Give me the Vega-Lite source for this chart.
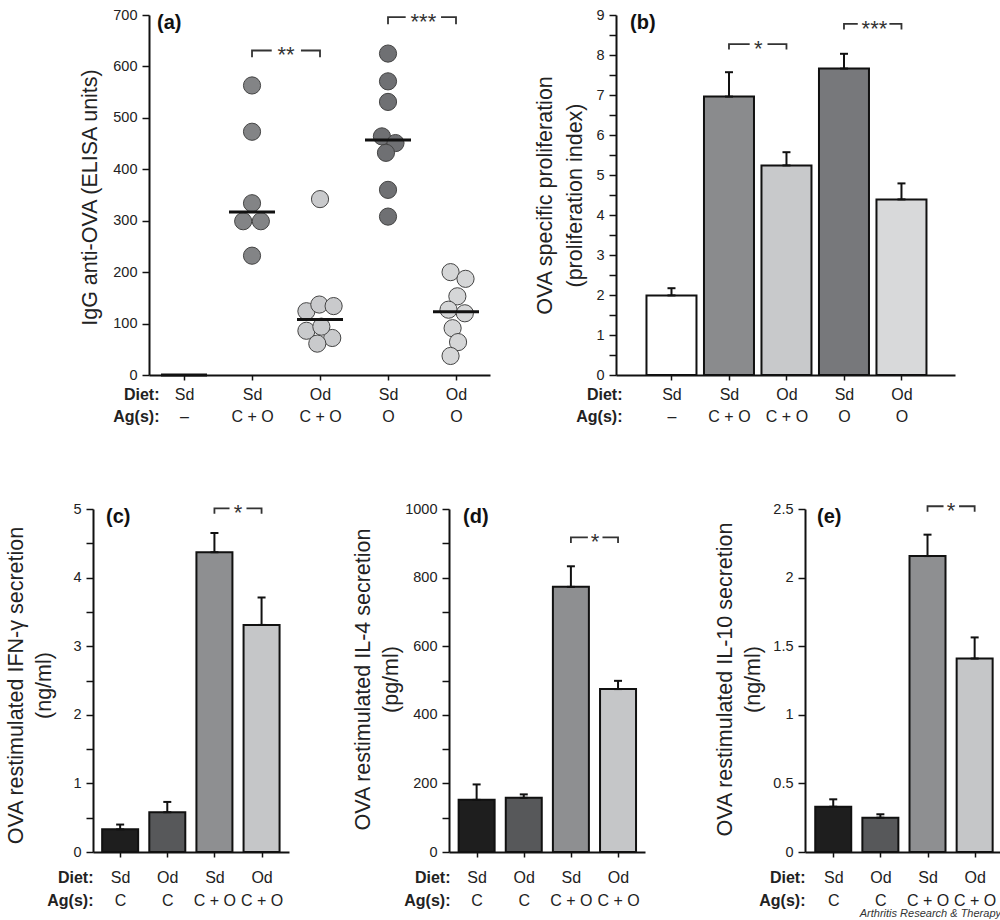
{
  "$schema": "https://vega.github.io/schema/vega-lite/v6.json",
  "background": "white",
  "padding": {"left": 4, "top": 7, "right": 0, "bottom": 0},
  "config": {
    "font": "Liberation Sans",
    "view": {"stroke": null},
    "axis": {"grid": false, "domainColor": "#111", "domainWidth": 2, "tickColor": "#111", "tickWidth": 1.5, "labelColor": "#222", "titleColor": "#222", "labelFont": "Liberation Sans", "titleFont": "Liberation Sans", "labelFlush": false, "labelOverlap": false},
    "axisY": {"tickSize": 7, "labelPadding": 5, "labelFontSize": 14.5, "titleFontSize": 21.5, "titleFontWeight": "normal", "titleBaseline": "middle", "titleAngle": -90},
    "axisX": {"tickSize": 5, "labelFontSize": 16, "labelAngle": 0, "labelBaseline": "top", "titleFontSize": 16, "titleFontWeight": "bold", "titleAlign": "right", "titleBaseline": "top", "titleAngle": 0}
  },
  "title": {"text": "Arthritis Research & Therapy", "orient": "bottom", "anchor": "end", "frame": "bounds", "fontSize": 11, "fontStyle": "italic", "fontWeight": "normal", "font": "Liberation Sans", "color": "#333", "offset": 0},
  "datasets": {
    "one": [{"k": 1}],
    "a_pts": [
      {"x": 2, "y": 563, "g": "SdCO"}, {"x": 2, "y": 473, "g": "SdCO"}, {"x": 2, "y": 334, "g": "SdCO"}, {"x": 1.87, "y": 299, "g": "SdCO"}, {"x": 2.13, "y": 299, "g": "SdCO"}, {"x": 2, "y": 232, "g": "SdCO"},
      {"x": 3, "y": 342, "g": "OdCO"}, {"x": 2.8, "y": 124, "g": "OdCO"}, {"x": 2.99, "y": 137, "g": "OdCO"}, {"x": 3.2, "y": 134, "g": "OdCO"}, {"x": 2.8, "y": 86, "g": "OdCO"}, {"x": 3.18, "y": 72, "g": "OdCO"}, {"x": 2.96, "y": 61, "g": "OdCO"}, {"x": 3.02, "y": 94, "g": "OdCO"},
      {"x": 4, "y": 625, "g": "SdO"}, {"x": 4, "y": 571, "g": "SdO"}, {"x": 4, "y": 531, "g": "SdO"}, {"x": 3.91, "y": 464, "g": "SdO"}, {"x": 4.11, "y": 451, "g": "SdO"}, {"x": 3.97, "y": 432, "g": "SdO"}, {"x": 4, "y": 360, "g": "SdO"}, {"x": 4, "y": 308, "g": "SdO"},
      {"x": 4.92, "y": 200, "g": "OdO"}, {"x": 5.14, "y": 187, "g": "OdO"}, {"x": 5.02, "y": 153, "g": "OdO"}, {"x": 4.89, "y": 127, "g": "OdO"}, {"x": 5.13, "y": 120, "g": "OdO"}, {"x": 4.95, "y": 91, "g": "OdO"}, {"x": 5.03, "y": 64, "g": "OdO"}, {"x": 4.92, "y": 37, "g": "OdO"}
    ],
    "a_med": [{"x": 1, "y": 0}, {"x": 2, "y": 317}, {"x": 3, "y": 108}, {"x": 4, "y": 457}, {"x": 5, "y": 123}],
    "a_br": [
      {"s": "a1", "o": 1, "x": 2, "y": 618}, {"s": "a1", "o": 2, "x": 2, "y": 631}, {"s": "a1", "o": 3, "x": 2.29, "y": 631},
      {"s": "a2", "o": 1, "x": 2.72, "y": 631}, {"s": "a2", "o": 2, "x": 3, "y": 631}, {"s": "a2", "o": 3, "x": 3, "y": 618},
      {"s": "a3", "o": 1, "x": 4, "y": 682}, {"s": "a3", "o": 2, "x": 4, "y": 696}, {"s": "a3", "o": 3, "x": 4.26, "y": 696},
      {"s": "a4", "o": 1, "x": 4.78, "y": 696}, {"s": "a4", "o": 2, "x": 5, "y": 696}, {"s": "a4", "o": 3, "x": 5, "y": 682}
    ],
    "a_st": [{"x": 2.5, "y": 631, "t": "**"}, {"x": 4.52, "y": 696, "t": "***"}],
    "b_bars": [
      {"x": 1, "y": 1.99, "hi": 2.17, "g": "b1"}, {"x": 2, "y": 6.96, "hi": 7.57, "g": "b2"}, {"x": 3, "y": 5.24, "hi": 5.57, "g": "b3"}, {"x": 4, "y": 7.66, "hi": 8.03, "g": "b4"}, {"x": 5, "y": 4.39, "hi": 4.79, "g": "b5"}
    ],
    "b_br": [
      {"s": "b1", "o": 1, "x": 2, "y": 8.14}, {"s": "b1", "o": 2, "x": 2, "y": 8.27}, {"s": "b1", "o": 3, "x": 2.36, "y": 8.27},
      {"s": "b2", "o": 1, "x": 2.67, "y": 8.27}, {"s": "b2", "o": 2, "x": 3, "y": 8.27}, {"s": "b2", "o": 3, "x": 3, "y": 8.14},
      {"s": "b3", "o": 1, "x": 4, "y": 8.64}, {"s": "b3", "o": 2, "x": 4, "y": 8.78}, {"s": "b3", "o": 3, "x": 4.24, "y": 8.78},
      {"s": "b4", "o": 1, "x": 4.79, "y": 8.78}, {"s": "b4", "o": 2, "x": 5, "y": 8.78}, {"s": "b4", "o": 3, "x": 5, "y": 8.64}
    ],
    "b_st": [{"x": 2.51, "y": 8.27, "t": "*"}, {"x": 4.53, "y": 8.78, "t": "***"}],
    "c_bars": [
      {"x": 1, "y": 0.33, "hi": 0.4, "g": "k1"}, {"x": 2, "y": 0.58, "hi": 0.73, "g": "k2"}, {"x": 3, "y": 4.37, "hi": 4.65, "g": "k3"}, {"x": 4, "y": 3.31, "hi": 3.71, "g": "k4"}
    ],
    "c_br": [
      {"s": "c1", "o": 1, "x": 3, "y": 4.93}, {"s": "c1", "o": 2, "x": 3, "y": 5.01}, {"s": "c1", "o": 3, "x": 3.32, "y": 5.01},
      {"s": "c2", "o": 1, "x": 3.68, "y": 5.01}, {"s": "c2", "o": 2, "x": 4, "y": 5.01}, {"s": "c2", "o": 3, "x": 4, "y": 4.93}
    ],
    "c_st": [{"x": 3.5, "y": 5.01, "t": "*"}],
    "d_bars": [
      {"x": 1, "y": 152, "hi": 197, "g": "k1"}, {"x": 2, "y": 158, "hi": 168, "g": "k2"}, {"x": 3, "y": 773, "hi": 833, "g": "k3"}, {"x": 4, "y": 475, "hi": 499, "g": "k4"}
    ],
    "d_br": [
      {"s": "d1", "o": 1, "x": 3, "y": 901}, {"s": "d1", "o": 2, "x": 3, "y": 917}, {"s": "d1", "o": 3, "x": 3.36, "y": 917},
      {"s": "d2", "o": 1, "x": 3.67, "y": 917}, {"s": "d2", "o": 2, "x": 4, "y": 917}, {"s": "d2", "o": 3, "x": 4, "y": 901}
    ],
    "d_st": [{"x": 3.51, "y": 917, "t": "*"}],
    "e_bars": [
      {"x": 1, "y": 0.33, "hi": 0.384, "g": "k1"}, {"x": 2, "y": 0.25, "hi": 0.275, "g": "k2"}, {"x": 3, "y": 2.157, "hi": 2.313, "g": "k3"}, {"x": 4, "y": 1.41, "hi": 1.564, "g": "k4"}
    ],
    "e_br": [
      {"s": "e1", "o": 1, "x": 3, "y": 2.48}, {"s": "e1", "o": 2, "x": 3, "y": 2.52}, {"s": "e1", "o": 3, "x": 3.34, "y": 2.52},
      {"s": "e2", "o": 1, "x": 3.67, "y": 2.52}, {"s": "e2", "o": 2, "x": 4, "y": 2.52}, {"s": "e2", "o": 3, "x": 4, "y": 2.48}
    ],
    "e_st": [{"x": 3.5, "y": 2.52, "t": "*"}]
  },
  "spacing": 76,
  "resolve": {"scale": {"color": "independent"}},
  "vconcat": [
    {
      "bounds": "flush",
      "spacing": 55,
      "resolve": {"scale": {"color": "independent"}},
      "hconcat": [
        {"width": 1, "height": 360, "data": {"values": []}, "mark": "point"},
        {
          "bounds": "flush",
          "spacing": 126,
          "resolve": {"scale": {"color": "independent"}},
          "hconcat": [
            {
              "width": 341, "height": 360,
              "layer": [
                {
                  "encoding": {
                    "x": {"field": "x", "type": "quantitative", "scale": {"domain": [0.485, 5.5], "nice": false, "zero": false},
                      "axis": {"values": [1, 2, 3, 4, 5], "tickCount": 100, "labelOverlap": false, "labelExpr": "[['Sd','–'],['Sd','C + O'],['Od','C + O'],['Sd','O'],['Od','O']][datum.value-1]", "labelLineHeight": 22, "labelPadding": 6, "title": ["Diet:", "Ag(s):"], "titleX": 10, "titleY": 11, "titleLineHeight": 22}},
                    "y": {"field": "y", "type": "quantitative", "scale": {"domain": [0, 700], "nice": false},
                      "axis": {"values": [0, 100, 200, 300, 400, 500, 600, 700], "tickCount": 100, "labelOverlap": false, "format": "d", "title": "IgG anti-OVA (ELISA units)", "titleX": -59, "titleY": 182}}
                  },
                  "layer": [
                    {"data": {"name": "a_pts"}, "mark": {"type": "circle", "size": 295, "opacity": 1, "stroke": "#444", "strokeWidth": 1},
                      "encoding": {"color": {"field": "g", "type": "nominal", "scale": {"domain": ["SdCO", "OdCO", "SdO", "OdO"], "range": ["#838486", "#c9cacc", "#6f7073", "#d5d6d7"]}, "legend": null}}},
                    {"data": {"name": "a_med"}, "mark": {"type": "tick", "orient": "horizontal", "size": 46, "thickness": 3, "color": "#111", "opacity": 1}},
                    {"data": {"name": "a_br"}, "mark": {"type": "line", "color": "#333", "strokeWidth": 1.8}, "encoding": {"detail": {"field": "s"}, "order": {"field": "o"}}},
                    {"data": {"name": "a_st"}, "mark": {"type": "text", "fontSize": 22, "color": "#333", "baseline": "alphabetic", "dy": 12}, "encoding": {"text": {"field": "t"}}}
                  ]
                },
                {"data": {"name": "one"}, "mark": {"type": "text", "fontSize": 20, "fontWeight": "bold", "color": "#111", "align": "left", "baseline": "top", "dx": 8, "dy": -2},
                  "encoding": {"x": {"datum": 0.485, "type": "quantitative"}, "y": {"datum": 700, "type": "quantitative"}, "text": {"value": "(a)"}}}
              ]
            },
            {
              "width": 339, "height": 360,
              "layer": [
                {
                  "encoding": {
                    "x": {"field": "x", "type": "quantitative", "scale": {"domain": [0.122, 5.844], "nice": false, "zero": false},
                      "axis": {"values": [1, 2, 3, 4, 5], "tickCount": 100, "labelOverlap": false, "labelExpr": "[['Sd','–'],['Sd','C + O'],['Od','C + O'],['Sd','O'],['Od','O']][datum.value-1]", "labelLineHeight": 22, "labelPadding": 6, "title": ["Diet:", "Ag(s):"], "titleX": 6, "titleY": 11, "titleLineHeight": 22}},
                    "y": {"field": "y", "type": "quantitative", "scale": {"domain": [0, 9], "nice": false},
                      "axis": {"values": [0, 0.5, 1, 1.5, 2, 2.5, 3, 3.5, 4, 4.5, 5, 5.5, 6, 6.5, 7, 7.5, 8, 8.5, 9], "tickCount": 100, "labelOverlap": false, "format": "~g", "labelExpr": "datum.value % 1 === 0 ? datum.label : ''", "title": ["OVA specific proliferation", "(proliferation index)"], "titleLineHeight": 30, "titleX": -71, "titleY": 180}}
                  },
                  "layer": [
                    {"data": {"name": "b_bars"}, "mark": {"type": "bar", "width": 50, "stroke": "#111", "strokeWidth": 2},
                      "encoding": {"color": {"field": "g", "type": "nominal", "scale": {"domain": ["b1", "b2", "b3", "b4", "b5"], "range": ["#ffffff", "#8a8b8d", "#c8c9cb", "#77787b", "#d8d9da"]}, "legend": null}}},
                    {"data": {"name": "b_bars"}, "mark": {"type": "errorbar", "ticks": {"size": 8, "thickness": 2, "color": "#111", "opacity": 1}, "rule": {"strokeWidth": 2, "color": "#111"}}, "encoding": {"y2": {"field": "hi"}}},
                    {"data": {"name": "b_br"}, "mark": {"type": "line", "color": "#333", "strokeWidth": 1.8}, "encoding": {"detail": {"field": "s"}, "order": {"field": "o"}}},
                    {"data": {"name": "b_st"}, "mark": {"type": "text", "fontSize": 22, "color": "#333", "baseline": "alphabetic", "dy": 12}, "encoding": {"text": {"field": "t"}}}
                  ]
                },
                {"data": {"name": "one"}, "mark": {"type": "text", "fontSize": 20, "fontWeight": "bold", "color": "#111", "align": "left", "baseline": "top", "dx": 9, "dy": -2},
                  "encoding": {"x": {"datum": 0.122, "type": "quantitative"}, "y": {"datum": 9, "type": "quantitative"}, "text": {"value": "(b)"}}}
              ]
            }
          ]
        }
      ]
    },
    {
      "bounds": "flush",
      "spacing": 160,
      "resolve": {"scale": {"color": "independent"}},
      "hconcat": [
        {
          "width": 196, "height": 343,
          "layer": [
            {
              "encoding": {
                "x": {"field": "x", "type": "quantitative", "scale": {"domain": [0.53, 4.476], "nice": false, "zero": false},
                  "axis": {"values": [1, 2, 3, 4], "tickCount": 100, "labelOverlap": false, "labelExpr": "[['Sd','C'],['Od','C'],['Sd','C + O'],['Od','C + O']][datum.value-1]", "labelLineHeight": 23, "labelPadding": 12, "title": ["Diet:", "Ag(s):"], "titleX": 0, "titleY": 17, "titleLineHeight": 23}},
                "y": {"field": "y", "type": "quantitative", "scale": {"domain": [0, 5], "nice": false},
                  "axis": {"values": [0, 0.5, 1, 1.5, 2, 2.5, 3, 3.5, 4, 4.5, 5], "tickCount": 100, "labelOverlap": false, "format": "~g", "labelExpr": "datum.value % 1 === 0 ? datum.label : ''", "title": ["OVA restimulated IFN-γ secretion", "(ng/ml)"], "titleLineHeight": 28, "titleX": -77, "titleY": 176}}
              },
              "layer": [
                {"data": {"name": "c_bars"}, "mark": {"type": "bar", "width": 36, "stroke": "#111", "strokeWidth": 2},
                  "encoding": {"color": {"field": "g", "type": "nominal", "scale": {"domain": ["k1", "k2", "k3", "k4"], "range": ["#1e1e1e", "#57585a", "#8e8f91", "#c5c6c8"]}, "legend": null}}},
                {"data": {"name": "c_bars"}, "mark": {"type": "errorbar", "ticks": {"size": 8, "thickness": 2, "color": "#111", "opacity": 1}, "rule": {"strokeWidth": 2, "color": "#111"}}, "encoding": {"y2": {"field": "hi"}}},
                {"data": {"name": "c_br"}, "mark": {"type": "line", "color": "#333", "strokeWidth": 1.8}, "encoding": {"detail": {"field": "s"}, "order": {"field": "o"}}},
                {"data": {"name": "c_st"}, "mark": {"type": "text", "fontSize": 22, "color": "#333", "baseline": "alphabetic", "dy": 12}, "encoding": {"text": {"field": "t"}}}
              ]
            },
            {"data": {"name": "one"}, "mark": {"type": "text", "fontSize": 20, "fontWeight": "bold", "color": "#111", "align": "left", "baseline": "top", "dx": 8, "dy": -2},
              "encoding": {"x": {"datum": 0.53, "type": "quantitative"}, "y": {"datum": 5, "type": "quantitative"}, "text": {"value": "(c)"}}}
          ]
        },
        {
          "width": 196, "height": 343,
          "layer": [
            {
              "encoding": {
                "x": {"field": "x", "type": "quantitative", "scale": {"domain": [0.52, 4.466], "nice": false, "zero": false},
                  "axis": {"values": [1, 2, 3, 4], "tickCount": 100, "labelOverlap": false, "labelExpr": "[['Sd','C'],['Od','C'],['Sd','C + O'],['Od','C + O']][datum.value-1]", "labelLineHeight": 23, "labelPadding": 12, "title": ["Diet:", "Ag(s):"], "titleX": 1, "titleY": 17, "titleLineHeight": 23}},
                "y": {"field": "y", "type": "quantitative", "scale": {"domain": [0, 1000], "nice": false},
                  "axis": {"values": [0, 100, 200, 300, 400, 500, 600, 700, 800, 900, 1000], "tickCount": 100, "labelOverlap": false, "format": "d", "labelExpr": "datum.value % 200 === 0 ? datum.label : ''", "title": ["OVA restimulated IL-4 secretion", "(pg/ml)"], "titleLineHeight": 28, "titleX": -86, "titleY": 170}}
              },
              "layer": [
                {"data": {"name": "d_bars"}, "mark": {"type": "bar", "width": 36, "stroke": "#111", "strokeWidth": 2},
                  "encoding": {"color": {"field": "g", "type": "nominal", "scale": {"domain": ["k1", "k2", "k3", "k4"], "range": ["#1e1e1e", "#57585a", "#8e8f91", "#c5c6c8"]}, "legend": null}}},
                {"data": {"name": "d_bars"}, "mark": {"type": "errorbar", "ticks": {"size": 8, "thickness": 2, "color": "#111", "opacity": 1}, "rule": {"strokeWidth": 2, "color": "#111"}}, "encoding": {"y2": {"field": "hi"}}},
                {"data": {"name": "d_br"}, "mark": {"type": "line", "color": "#333", "strokeWidth": 1.8}, "encoding": {"detail": {"field": "s"}, "order": {"field": "o"}}},
                {"data": {"name": "d_st"}, "mark": {"type": "text", "fontSize": 22, "color": "#333", "baseline": "alphabetic", "dy": 12}, "encoding": {"text": {"field": "t"}}}
              ]
            },
            {"data": {"name": "one"}, "mark": {"type": "text", "fontSize": 20, "fontWeight": "bold", "color": "#111", "align": "left", "baseline": "top", "dx": 9, "dy": -2},
              "encoding": {"x": {"datum": 0.52, "type": "quantitative"}, "y": {"datum": 1000, "type": "quantitative"}, "text": {"value": "(d)"}}}
          ]
        },
        {
          "width": 196, "height": 343,
          "layer": [
            {
              "encoding": {
                "x": {"field": "x", "type": "quantitative", "scale": {"domain": [0.507, 4.453], "nice": false, "zero": false},
                  "axis": {"values": [1, 2, 3, 4], "tickCount": 100, "labelOverlap": false, "labelExpr": "[['Sd','C'],['Od','C'],['Sd','C + O'],['Od','C + O']][datum.value-1]", "labelLineHeight": 23, "labelPadding": 12, "title": ["Diet:", "Ag(s):"], "titleX": 0, "titleY": 17, "titleLineHeight": 23}},
                "y": {"field": "y", "type": "quantitative", "scale": {"domain": [0, 2.5], "nice": false},
                  "axis": {"values": [0, 0.5, 1, 1.5, 2, 2.5], "tickCount": 100, "labelOverlap": false, "format": "~g", "title": ["OVA restimulated IL-10 secretion", "(ng/ml)"], "titleLineHeight": 28, "titleX": -80, "titleY": 170}}
              },
              "layer": [
                {"data": {"name": "e_bars"}, "mark": {"type": "bar", "width": 36, "stroke": "#111", "strokeWidth": 2},
                  "encoding": {"color": {"field": "g", "type": "nominal", "scale": {"domain": ["k1", "k2", "k3", "k4"], "range": ["#1e1e1e", "#57585a", "#8e8f91", "#c5c6c8"]}, "legend": null}}},
                {"data": {"name": "e_bars"}, "mark": {"type": "errorbar", "ticks": {"size": 8, "thickness": 2, "color": "#111", "opacity": 1}, "rule": {"strokeWidth": 2, "color": "#111"}}, "encoding": {"y2": {"field": "hi"}}},
                {"data": {"name": "e_br"}, "mark": {"type": "line", "color": "#333", "strokeWidth": 1.8}, "encoding": {"detail": {"field": "s"}, "order": {"field": "o"}}},
                {"data": {"name": "e_st"}, "mark": {"type": "text", "fontSize": 22, "color": "#333", "baseline": "alphabetic", "dy": 12}, "encoding": {"text": {"field": "t"}}}
              ]
            },
            {"data": {"name": "one"}, "mark": {"type": "text", "fontSize": 20, "fontWeight": "bold", "color": "#111", "align": "left", "baseline": "top", "dx": 7, "dy": -2},
              "encoding": {"x": {"datum": 0.507, "type": "quantitative"}, "y": {"datum": 2.5, "type": "quantitative"}, "text": {"value": "(e)"}}}
          ]
        }
      ]
    }
  ]
}
